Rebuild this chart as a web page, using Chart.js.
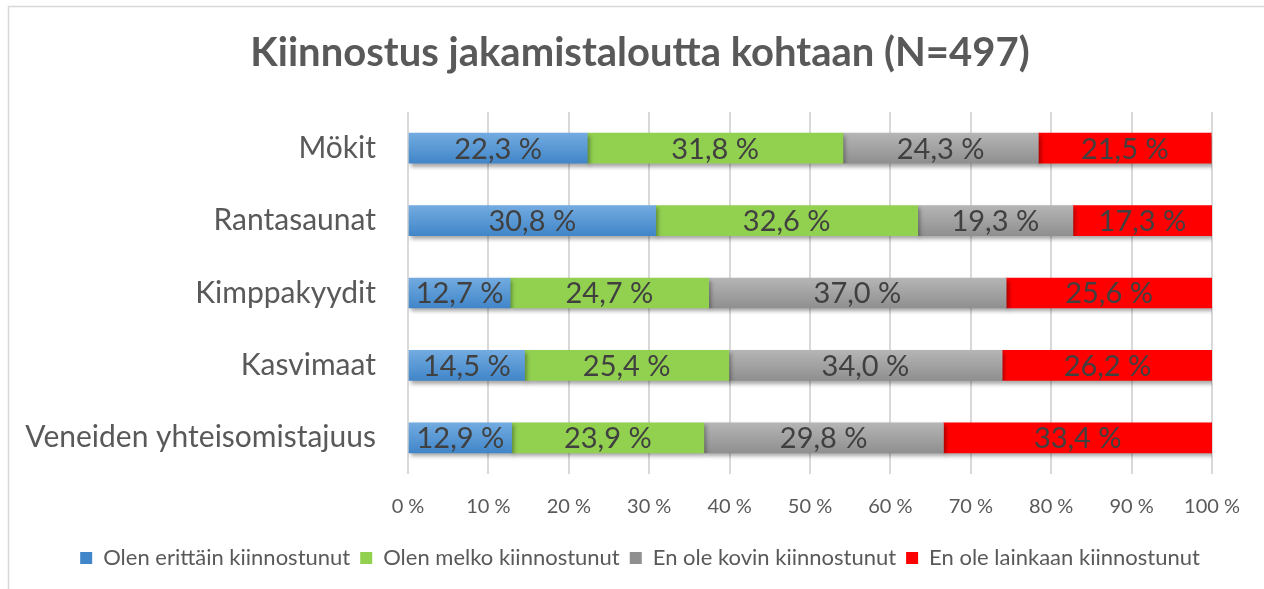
<!DOCTYPE html>
<html>
<head>
<meta charset="utf-8">
<script src="https://cdn.jsdelivr.net/npm/chart.js@4"></script>
<style>
  html, body { margin: 0; padding: 0; background: #fff; }
  #wrap { position: absolute; left: 0; top: 0; width: 1264px; height: 589px; }
</style>
</head>
<body>
<div id="wrap"><canvas id="myChart"></canvas></div>
<script>
const categories = ['Mökit', 'Rantasaunat', 'Kimppakyydit', 'Kasvimaat', 'Veneiden yhteisomistajuus'];

const seriesNames = [
    'Olen erittäin kiinnostunut',
    'Olen melko kiinnostunut',
    'En ole kovin kiinnostunut',
    'En ole lainkaan kiinnostunut'
];

const erittain = [22.3, 30.8, 12.7, 14.5, 12.9];
const melko = [31.8, 32.6, 24.7, 25.4, 23.9];
const kovin = [24.3, 19.3, 37.0, 34.0, 29.8];
const lainkaan = [21.5, 17.3, 25.6, 26.2, 33.4];

const tickValues = [0, 10, 20, 30, 40, 50, 60, 70, 80, 90, 100];

const GREY_TEXT = '#595959';
const BAR_H = 30;

// vertical gradient per bar, like the excel fill
function gradFill(top, bottom, flat) {
    return function (ctx) {
        const chart = ctx.chart;
        const y = chart.scales && chart.scales.y;
        if (ctx.dataIndex === undefined || !y || !chart.chartArea) return flat;
        const c = y.getPixelForValue(ctx.dataIndex);
        const g = chart.ctx.createLinearGradient(0, c - BAR_H / 2, 0, c + BAR_H / 2);
        g.addColorStop(0, top);
        g.addColorStop(1, bottom);
        return g;
    };
}

const frame = {
    id: 'frame',
    beforeDraw(chart) {
        const c = chart.ctx;
        c.save();
        c.strokeStyle = '#d9d9d9';
        c.lineWidth = 1.5;
        c.strokeRect(8.5, 6.5, 1400, 700);
        c.restore();
    },
    afterLayout(chart) {
        // excel centres title and legend over the whole chart, not the plot
        chart.titleBlock.right += 60;
        chart.legend.right += 60;
    }
};

const shadow = {
    id: 'shadow',
    beforeDatasetDraw(chart) {
        const c = chart.ctx;
        c.save();
        c.shadowColor = 'rgba(0,0,0,0.35)';
        c.shadowBlur = 4;
        c.shadowOffsetX = 2;
        c.shadowOffsetY = 3;
    },
    afterDatasetDraw(chart) {
        chart.ctx.restore();
    }
};

const barLabels = {
    id: 'barLabels',
    afterDatasetsDraw(chart) {
        const c = chart.ctx;
        c.save();
        c.font = '29px Lato';
        c.fillStyle = '#404040';
        c.textAlign = 'center';
        c.textBaseline = 'middle';
        chart.data.datasets.forEach((ds, i) => {
            chart.getDatasetMeta(i).data.forEach((el, j) => {
                const txt = ds.data[j].toFixed(1).replace('.', ',') + ' %';
                c.fillText(txt, (el.x + el.base) / 2, el.y + 1);
            });
        });
        c.restore();
    }
};

const data = {
    labels: categories,
    datasets: [
        { label: seriesNames[0], data: erittain, backgroundColor: gradFill('#72abe0', '#4186c9', '#5b9bd5') },
        { label: seriesNames[1], data: melko, backgroundColor: '#92d050' },
        { label: seriesNames[2], data: kovin, backgroundColor: gradFill('#b5b5b5', '#8f8f8f', '#a5a5a5') },
        { label: seriesNames[3], data: lainkaan, backgroundColor: '#ff0000' }
    ]
};

const config = {
    type: 'bar',
    data: data,
    options: {
        indexAxis: 'y',
        responsive: true,
        maintainAspectRatio: false,
        animation: false,
        datasets: {
            bar: { barThickness: BAR_H, borderWidth: 0 }
        },
        layout: { padding: { left: 8, right: 52, top: 6, bottom: 10 } },
        scales: {
            x: {
                stacked: true,
                min: 0,
                max: 100,
                afterBuildTicks(scale) {
                    scale.ticks = tickValues.map(v => ({ value: v }));
                },
                afterFit(scale) { scale.height = 63; },
                grid: { color: '#d9d9d9', lineWidth: 2, drawTicks: false },
                border: { display: false },
                ticks: {
                    padding: 21,
                    color: GREY_TEXT,
                    font: { family: 'Lato', size: 20 },
                    callback: v => v + ' %'
                }
            },
            y: {
                stacked: true,
                afterFit(scale) { scale.width = 400; },
                grid: { display: false, drawTicks: false },
                border: { display: false },
                ticks: {
                    padding: 32,
                    color: GREY_TEXT,
                    font: { family: 'Lato', size: 30 }
                }
            }
        },
        plugins: {
            title: {
                display: true,
                text: 'Kiinnostus jakamistaloutta kohtaan (N=497)',
                color: GREY_TEXT,
                font: { family: 'Lato', size: 40, weight: 'bold' },
                padding: { top: 23, bottom: 35 }
            },
            legend: {
                position: 'bottom',
                labels: {
                    color: GREY_TEXT,
                    font: { family: 'Lato', size: 22 },
                    boxWidth: 12,
                    boxHeight: 12,
                    padding: 10
                }
            },
            tooltip: { enabled: false }
        }
    },
    plugins: [frame, shadow, barLabels]
};

const myChart = new Chart(document.getElementById('myChart'), config);
</script>
</body>
</html>
